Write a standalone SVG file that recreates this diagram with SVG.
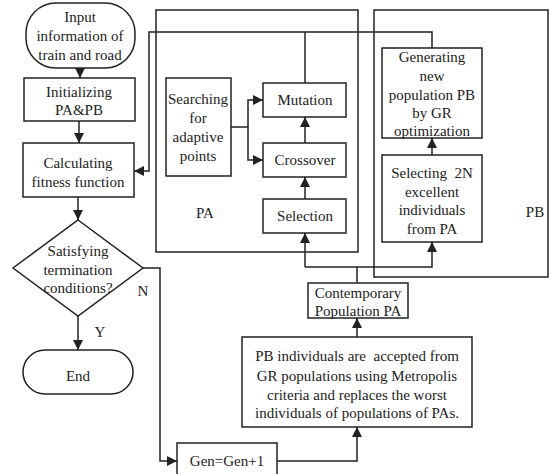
<svg xmlns="http://www.w3.org/2000/svg" width="555" height="474" viewBox="0 0 555 474">
<style>
.b{fill:#fff;stroke:#222;stroke-width:1.5}
.c{fill:none;stroke:#222;stroke-width:1.5}
text{font-family:"Liberation Serif","Times New Roman",serif;font-size:15px;fill:#222;text-anchor:middle}
</style>
<defs>
<marker id="a" viewBox="0 0 10 10" refX="10" refY="5" markerWidth="10" markerHeight="10" markerUnits="userSpaceOnUse" orient="auto">
<path d="M0,0 L10,5 L0,10 z" fill="#222"/>
</marker>
</defs>
<rect width="555" height="474" fill="#fff"/>
<g id="PA-frame"><rect class="c" x="156" y="10" width="202" height="242"/><text x="205" y="218">PA</text></g>
<g id="PB-frame"><rect class="c" x="374" y="10" width="174" height="267"/><text x="535" y="217">PB</text></g>
<g id="connectors">
<path class="c" d="M80,68 V78" marker-end="url(#a)"/>
<path class="c" d="M79,121 V143" marker-end="url(#a)"/>
<path class="c" d="M78,197 V220" marker-end="url(#a)"/>
<path class="c" d="M78,316 V350" marker-end="url(#a)"/>
<path class="c" d="M143,268 H160 V461 H177" marker-end="url(#a)"/>
<path class="c" d="M277,461 H357 V427" marker-end="url(#a)"/>
<path class="c" d="M357,337 V318" marker-end="url(#a)"/>
<path class="c" d="M357,283 V267"/>
<path class="c" d="M305,267 H432 V242" marker-end="url(#a)"/>
<path class="c" d="M305,267 V233" marker-end="url(#a)"/>
<path class="c" d="M305,199 V177" marker-end="url(#a)"/>
<path class="c" d="M305,143 V117" marker-end="url(#a)"/>
<path class="c" d="M432,155 V138" marker-end="url(#a)"/>
<path class="c" d="M231,127 H248 V100 H263" marker-end="url(#a)"/>
<path class="c" d="M248,127 V160 H263" marker-end="url(#a)"/>
<path class="c" d="M305,83 V32"/>
<path class="c" d="M432,48 V32 H149 V171 H134" marker-end="url(#a)"/>
</g>
<g id="start"><rect class="b" x="26" y="3" width="109" height="65" rx="30" ry="30"/><text x="80" y="22">Input</text><text x="80" y="41">information of</text><text x="80" y="60">train and road</text></g>
<g id="init"><rect class="b" x="24" y="78" width="111" height="43"/><text x="79" y="97">Initializing</text><text x="79" y="115">PA&amp;PB</text></g>
<g id="calc"><rect class="b" x="23" y="143" width="111" height="54"/><text x="78" y="168">Calculating</text><text x="78" y="187">fitness function</text></g>
<g id="cond"><path class="b" d="M78,220 L143,268 L78,316 L13,268 z"/><text x="78" y="256">Satisfying</text><text x="78" y="275">termination</text><text x="78" y="293">conditions?</text></g>
<text x="143" y="296">N</text>
<text x="100" y="337">Y</text>
<g id="end"><rect class="b" x="23" y="350" width="110" height="44" rx="22" ry="22"/><text x="78" y="381">End</text></g>
<g id="search"><rect class="b" x="166" y="78" width="65" height="98"/><text x="198" y="104">Searching</text><text x="198" y="123">for</text><text x="198" y="142">adaptive</text><text x="198" y="161">points</text></g>
<g id="mutation"><rect class="b" x="263" y="83" width="83" height="34"/><text x="305" y="105">Mutation</text></g>
<g id="crossover"><rect class="b" x="263" y="143" width="83" height="34"/><text x="305" y="165">Crossover</text></g>
<g id="selection"><rect class="b" x="263" y="199" width="83" height="34"/><text x="305" y="221">Selection</text></g>
<g id="generating"><rect class="b" x="382" y="48" width="100" height="90"/><text x="432" y="62">Generating</text><text x="432" y="81">new</text><text x="432" y="100">population PB</text><text x="432" y="118">by GR</text><text x="432" y="136">optimization</text></g>
<g id="selecting"><rect class="b" x="382" y="155" width="100" height="87"/><text x="432" y="178" xml:space="preserve">Selecting  2N</text><text x="432" y="197">excellent</text><text x="432" y="215">individuals</text><text x="432" y="234">from PA</text></g>
<g id="contemporary"><rect class="b" x="308" y="283" width="100" height="35"/><text x="358" y="298">Contemporary</text><text x="358" y="316">Population PA</text></g>
<g id="accept"><rect class="b" x="242" y="337" width="230" height="90"/><text x="357" y="361" xml:space="preserve">PB individuals are  accepted from</text><text x="357" y="381">GR populations using Metropolis</text><text x="357" y="400">criteria and replaces the worst</text><text x="357" y="418">individuals of populations of PAs.</text></g>
<g id="gen"><rect class="b" x="177" y="443" width="100" height="40"/><text x="227" y="466">Gen=Gen+1</text></g>
</svg>
